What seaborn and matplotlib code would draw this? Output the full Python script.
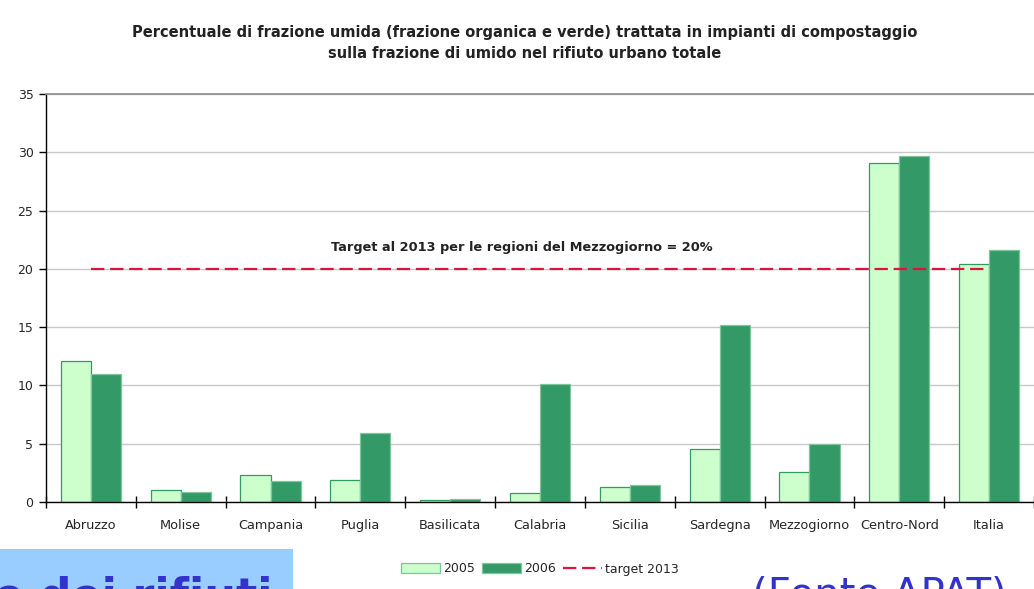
import pandas as pd
import numpy as np
import matplotlib
matplotlib.use("Agg")
import matplotlib.pyplot as plt
from matplotlib.lines import Line2D
from matplotlib.patches import Rectangle
import seaborn as sns

# values (percent)
regions = ["Abruzzo", "Molise", "Campania", "Puglia", "Basilicata", "Calabria",
           "Sicilia", "Sardegna", "Mezzogiorno", "Centro-Nord", "Italia"]
values_2005 = [12.1, 1.0, 2.3, 1.85, 0.15, 0.8, 1.3, 4.55, 2.6, 29.1, 20.45]
values_2006 = [11.0, 0.85, 1.8, 5.9, 0.25, 10.15, 1.5, 15.2, 4.95, 29.65, 21.6]
target_2013 = [20, 20, 20, 20, 20, 20, 20, 20, 20, 20, 20]
years = ["2005", "2006"]

df = pd.DataFrame({
    "region": regions * 2,
    "year": [years[0]] * len(regions) + [years[1]] * len(regions),
    "value": values_2005 + values_2006,
})

sns.set_theme(style="white")
plt.rcParams["font.family"] = ["DejaVu Sans"]

fig = plt.figure(figsize=(10.34, 5.89), dpi=100)
ax = fig.add_axes([46 / 1034, 1 - 502 / 589, 1 - 46 / 1034, 408 / 589])

pal = {"2005": "#CCFFCC", "2006": "#339966"}
sns.barplot(data=df, x="region", y="value", hue="year", palette=pal, width=0.67,
            saturation=1, edgecolor="#339966", linewidth=0.9, ax=ax)
for bar in ax.patches[len(regions):]:
    bar.set_edgecolor("#7FC49C")

# target line at 20%
ax.plot(regions, target_2013, color="#E0103F", lw=1.6, dashes=(6, 2.6))

ax.set_ylim(0, 35)
ax.set_xlim(-0.5, len(regions) - 0.5)
ax.set_yticks([0, 5, 10, 15, 20, 25, 30, 35])
ax.yaxis.grid(True, color="#C8C8C8", lw=1)
ax.set_axisbelow(True)
ax.set_xlabel("")
ax.set_ylabel("")

for s in ["left", "bottom"]:
    ax.spines[s].set_color("black")
    ax.spines[s].set_linewidth(1)
ax.spines["top"].set_color("#909090")
ax.spines["right"].set_visible(False)

ax.tick_params(axis="y", direction="out", length=5, width=1, color="black",
               labelsize=9, pad=4, left=True)
ax.tick_params(axis="x", which="major", length=0, labelsize=9.3, pad=12)
ax.set_xticks(np.arange(len(regions) + 1) - 0.5, minor=True)
ax.tick_params(axis="x", which="minor", direction="inout", length=9, width=1,
               color="black", bottom=True)

ax.text(5.0 - 0.2, 21.8, "Target al 2013 per le regioni del Mezzogiorno = 20%",
        ha="center", va="center", fontsize=9.3, fontweight="bold", color="#222222")

fig.text(525 / 1034, 1 - 43 / 589,
         "Percentuale di frazione umida (frazione organica e verde) trattata in impianti di compostaggio\n"
         "sulla frazione di umido nel rifiuto urbano totale",
         ha="center", va="center", fontsize=10.5, fontweight="bold", color="#222222",
         linespacing=1.5)

# legend
handles, labels = ax.get_legend_handles_labels()
ax.get_legend().remove()
line_h = Line2D([0], [0], color="#E0103F", lw=1.6, dashes=(6, 2.6))
fig.legend(handles[:2] + [line_h], ["2005", "2006", "target 2013"],
           loc="center", bbox_to_anchor=(540 / 1034, 1 - 569 / 589), ncol=3,
           frameon=False, fontsize=9, handlelength=3.1, handleheight=0.85,
           handletextpad=0.25, columnspacing=0.6)

# slide fragments visible around the chart
fig.patches.append(Rectangle((0, 0), 293 / 1034, 40 / 589, transform=fig.transFigure,
                             facecolor="#99CCFF", edgecolor="none", zorder=0))
fig.text(-6 / 1034, -20 / 589, "e dei rifiuti", fontsize=32, fontweight="bold",
         color="#3333CC", ha="left", va="baseline")
fig.text(752 / 1034, -17 / 589, "(Fonte APAT)", fontsize=29,
         color="#3333CC", ha="left", va="baseline")

plt.savefig("out.png", dpi=100)
